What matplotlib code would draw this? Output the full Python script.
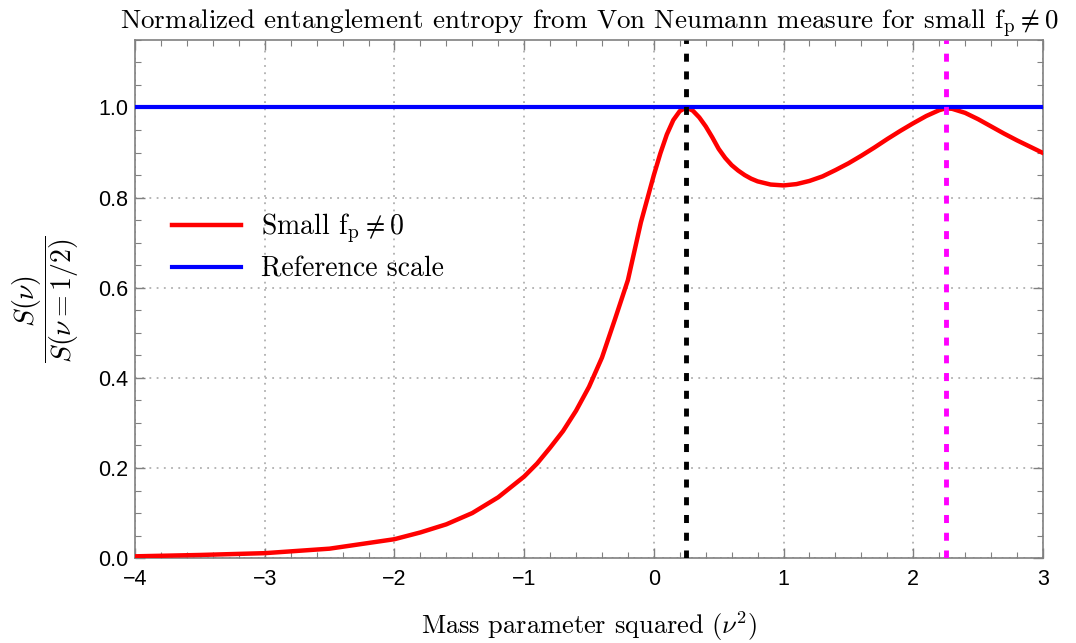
import numpy as np
import matplotlib
matplotlib.use('Agg')
import matplotlib.pyplot as plt
from matplotlib.ticker import MultipleLocator

plt.rcParams['font.family'] = 'Liberation Sans'
plt.rcParams['mathtext.fontset'] = 'cm'

# values
nu2 = [-4, -3.5, -3, -2.5, -2, -1.8, -1.6, -1.4, -1.2, -1, -0.9, -0.8, -0.7,
       -0.6, -0.5, -0.4, -0.3, -0.2, -0.1, 0, 0.05, 0.1, 0.15, 0.2, 0.25, 0.3,
       0.35, 0.4, 0.45, 0.5, 0.55, 0.6, 0.65, 0.7, 0.75, 0.8, 0.9, 1.0, 1.1,
       1.2, 1.3, 1.4, 1.5, 1.6, 1.7, 1.8, 1.9, 2.0, 2.1, 2.2, 2.25, 2.3, 2.4,
       2.5, 2.6, 2.7, 2.8, 2.9, 3.0]
s_norm = [0.004, 0.007, 0.011, 0.021, 0.042, 0.057, 0.075, 0.10, 0.135, 0.181,
          0.21, 0.245, 0.282, 0.327, 0.38, 0.445, 0.53, 0.617, 0.745, 0.85,
          0.898, 0.94, 0.972, 0.992, 1.0, 0.993, 0.978, 0.958, 0.934, 0.908,
          0.888, 0.872, 0.86, 0.85, 0.842, 0.836, 0.829, 0.827, 0.83, 0.837,
          0.847, 0.861, 0.876, 0.893, 0.911, 0.93, 0.948, 0.965, 0.981, 0.994,
          0.998, 0.997, 0.988, 0.974, 0.958, 0.942, 0.927, 0.913, 0.899]
ref_level = 1.0
peak_lines = [0.25, 2.25]
peak_colors = ['black', 'magenta']

serif = 'cmr10'

fig = plt.figure(figsize=(10.76, 6.43), dpi=100)
ax = fig.add_axes([0.1255, 0.132, 0.8438, 0.806])

ax.plot(nu2, s_norm, color='red', lw=3.2, label=r'Small $\mathrm{f_p} \neq 0$', zorder=3,
        solid_joinstyle='round')
ax.axhline(ref_level, color='blue', lw=3, label='Reference scale', zorder=4)
for xv, c in zip(peak_lines, peak_colors):
    ax.axvline(xv, color=c, lw=3.5, ls=(0, (1.65, 2.0)), zorder=5)

ax.set_xlim(-4, 3)
ax.set_ylim(0, 1.15)
ax.xaxis.set_major_locator(MultipleLocator(1))
ax.xaxis.set_minor_locator(MultipleLocator(0.2))
ax.yaxis.set_major_locator(MultipleLocator(0.2))
ax.yaxis.set_minor_locator(MultipleLocator(0.05))
ax.yaxis.set_major_formatter(plt.FuncFormatter(lambda v, p: f'{v:.1f}'))
ax.xaxis.set_major_formatter(plt.FuncFormatter(lambda v, p: f'{int(round(v))}'.replace('-', '\u2212')))

ax.tick_params(which='both', direction='in', top=True, right=True, color='#808080',
               labelsize=15.5, labelcolor='black')
ax.tick_params(which='major', length=7, width=1)
ax.tick_params(which='minor', length=4, width=0.8)
ax.tick_params(axis='x', which='major', pad=8)
ax.tick_params(axis='y', which='major', pad=5)
for sp in ax.spines.values():
    sp.set_color('#808080')
    sp.set_linewidth(1.2)

ax.grid(True, which='major', color='#b0b0b0', ls=(0, (1, 3)), lw=1.3)

ax.set_title(r'Normalized entanglement entropy from Von Neumann measure for small $\mathrm{f_p} \neq 0$',
             family=serif, fontsize=19.5, pad=6)
ax.set_xlabel(r'Mass parameter squared ($\nu^2$)', family=serif, fontsize=19, labelpad=14)
ax.set_ylabel(r'$\dfrac{S(\nu)}{S(\nu=1/2)}$', fontsize=20, labelpad=12)

leg = ax.legend(loc='center left', bbox_to_anchor=(0.013, 0.6), frameon=False,
                prop={'family': serif, 'size': 20}, handlelength=2.5,
                handletextpad=0.72, labelspacing=0.4)

fig.savefig('out.png', dpi=100)
